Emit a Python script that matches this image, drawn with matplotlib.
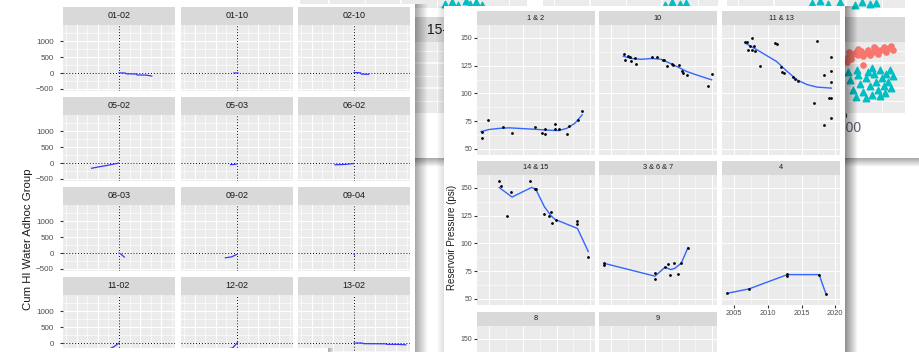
import numpy as np
import matplotlib.pyplot as plt
from matplotlib.ticker import FixedLocator

plt.rcParams['font.family'] = ['Liberation Sans', 'DejaVu Sans']

# ---------------- left sheet: cumulative HI water by ad hoc group ----------------
groups_left = ["01-02", "01-10", "02-10", "05-02", "05-03", "06-02",
               "08-03", "09-02", "09-04", "11-02", "12-02", "13-02"]
months_left = [
    [0, 6, 7, 16, 17, 26, 31],
    [-3, 0, 1],
    [0, 6, 7, 14],
    [-26, -19, -12, -6, 0],
    [-6, -3, 0],
    [-18, -9, 0],
    [0, 2, 5],
    [-11, -5, 0],
    [0, 0.5],
    [-11, -5, 0],
    [-11, -4, 0, 0.5],
    [0, 8, 9, 30, 31, 42, 49],
]
water_left = [
    [5, 0, -25, -30, -60, -65, -95],
    [0, 5, 0],
    [15, 10, -35, -40],
    [-165, -120, -80, -40, 0],
    [-50, -45, -30],
    [-55, -45, -15],
    [0, -40, -125],
    [-150, -120, -40],
    [-25, -60],
    [-215, -120, 0],
    [-210, -150, 0, 10],
    [0, 0, -20, -25, -40, -45, -55],
]

# ---------------- front sheet: reservoir pressure by well group ----------------
groups_right = ["1 & 2", "10", "11 & 13", "14 & 15", "3 & 6 & 7", "4", "8", "9"]
obs_year = [
    [2003.9, 2003.9, 2004.9, 2007.1, 2008.4, 2011.8, 2012.8, 2013.3, 2013.3,
     2014.7, 2014.7, 2015.3, 2016.6, 2016.8, 2018.2, 2018.8],
    [2006.95, 2007.1, 2007.55, 2007.8, 2007.95, 2008.5, 2008.7, 2011.0, 2011.8,
     2012.7, 2012.85, 2013.3, 2014.0, 2014.2, 2015.0, 2015.5, 2015.6, 2016.3,
     2019.4, 2019.9],
    [2006.6, 2006.95, 2007.6, 2007.1, 2007.6, 2008.1, 2007.4, 2007.9, 2008.9,
     2011.1, 2011.3, 2012.0, 2012.1, 2012.4, 2013.8, 2014.1, 2014.4, 2017.3,
     2016.9, 2018.3, 2018.4, 2019.4, 2019.4, 2019.3, 2019.1, 2019.4, 2019.4],
    [2006.5, 2006.7, 2007.6, 2008.2, 2011.1, 2011.8, 2011.9, 2013.2, 2013.9,
     2014.2, 2014.3, 2014.9, 2018.1, 2018.1, 2019.7],
    [2004.0, 2004.0, 2011.5, 2011.5, 2013.0, 2013.5, 2013.8, 2014.3, 2014.9,
     2015.4, 2016.4],
    [2004.0, 2007.2, 2012.9, 2012.9, 2017.6, 2018.6],
    [],
    [],
]
obs_psi = [
    [65, 60, 76, 70, 64, 70, 64, 68, 63, 72, 68, 68, 63, 71, 76, 84],
    [135.5, 130.3, 134.2, 132.8, 128.8, 131.8, 126.7, 133.3, 132.5, 130.3,
     130.3, 124.3, 126.7, 125.2, 125.8, 119.8, 118.3, 116.8, 106.9, 117.7],
    [146.8, 146.8, 150, 139.3, 139.3, 138.7, 143.2, 143.2, 124.9, 145.7, 144.5,
     123.7, 119.2, 118.3, 114.7, 113, 111.4, 147.2, 91.2, 116.5, 71.4, 133.3,
     120.4, 110.2, 95.8, 95.7, 78],
    [155.9, 151.4, 124.3, 146.6, 156.5, 149.5, 149, 126.1, 124.9, 127.9, 118.6,
     121.3, 120.4, 117.5, 87.6],
    [82.8, 81, 73.7, 67.8, 78.6, 81.6, 71.7, 82.2, 72.3, 82.2, 96.3],
    [55.1, 59.0, 72.8, 71.0, 71.9, 54.8],
    [],
    [],
]
fit_year = [
    [2003.8, 2005, 2006.5, 2008, 2010, 2012, 2014, 2015.3, 2016.5, 2017.7, 2018.8],
    [2006.8, 2008, 2009.5, 2011, 2012.4, 2013.7, 2015, 2016.2, 2018, 2019.9],
    [2006.8, 2008.4, 2010, 2011.3, 2012.6, 2014.3, 2015.8, 2017.3, 2019.4],
    [2006.5, 2008.4, 2011.3, 2011.9, 2013.2, 2014.2, 2014.8, 2018.1, 2019.7],
    [2004.0, 2011.5, 2013.0, 2013.8, 2014.4, 2015.4, 2016.4],
    [2004.0, 2007.2, 2012.9, 2017.6, 2018.6],
    [],
    [],
]
fit_psi = [
    [65.6, 67.5, 68.5, 69, 68.3, 67.6, 66.8, 66.5, 68.5, 73, 80.7],
    [133.5, 131.5, 130.8, 131.5, 130.8, 127.3, 123.5, 119.8, 116, 112.3],
    [144.8, 139.3, 133.5, 128.8, 121.3, 112.3, 108, 105.7, 104.8],
    [150.4, 141.8, 150.5, 149, 133, 124.8, 121.6, 113.5, 92.7],
    [82, 70.5, 78.6, 76.5, 77.4, 82.2, 96.3],
    [55.1, 59.0, 71.9, 71.9, 54.8],
    [],
    [],
]

# ---------------- sheet in the back (only slivers visible) ----------------
back_labels = ["15-02", "15-03", "15-04"]
tri_top_x = [[2306, 2354, 2396, 2451, 2479, 2521, 2563],
             [2021, 2069, 2125, 2167],
             [1764, 1819, 1875, 1958, 2063, 2111, 2167, 2208]]
tri_top_y = [[4, 6, 3, 7, 4, 6, 3],
             [3, 6, 4, 5],
             [5, 7, 4, 6, 3, 6, 4, 5]]
red_x = [2007, 2014, 2021, 2035, 2049, 2069, 2083, 2104, 2118, 2139, 2153, 2167,
         2188, 2208, 2222, 2243, 2264, 2278, 2299, 2313, 2326, 2118, 2194, 2083]
red_y = [51, 56, 61, 54, 59, 61, 58, 62, 57, 60, 63, 58, 61, 64, 59, 63, 66, 61,
         65, 67, 63, 48, 66, 64]
cyan_x = [2014, 2028, 2049, 2069, 2083, 2097, 2076, 2118, 2139, 2153, 2167, 2181,
          2194, 2208, 2222, 2236, 2250, 2264, 2278, 2292, 2306, 2313, 2326, 2181,
          2139, 2236, 2271]
cyan_y = [41, 33, 23, 16, 38, 29, 43, 21, 35, 41, 27, 18, 39, 31, 23, 43, 35, 27,
          39, 31, 43, 25, 37, 45, 15, 17, 20]

W, H = 919, 352
fig = plt.figure(figsize=(W / 100, H / 100), dpi=100)


def add_ax(x, y, w, h, z):
    ax = fig.add_axes([x / W, 1 - (y + h) / H, w / W, h / H])
    ax.set_zorder(z)
    return ax


def bare(ax, color):
    ax.set_facecolor(color)
    ax.set_xticks([])
    ax.set_yticks([])
    for s in ax.spines.values():
        s.set_visible(False)


def sheet(x, y, w, h, z):
    bare(add_ax(x, y, w, h, z), 'white')


def shadow(x, y, w, h, z, along='x', strength=0.3, flip=False):
    ax = add_ax(x, y, w, h, z)
    ax.axis('off')
    fade = np.linspace(strength, 0, 48)
    if flip:
        fade = fade[::-1]
    img = np.zeros((1, 48, 4)) if along == 'x' else np.zeros((48, 1, 4))
    img[..., 3] = fade.reshape(img.shape[:2])
    ax.imshow(img, aspect='auto', extent=(0, 1, 0, 1), interpolation='bilinear')
    ax.set_xlim(0, 1)
    ax.set_ylim(0, 1)


def strip(x, y, w, h, z, label, size, tx=0.5, ha='center'):
    ax = add_ax(x, y, w, h, z)
    bare(ax, '#D9D9D9')
    ax.text(tx, 0.5, label, ha=ha, va='center', fontsize=size, color='#1A1A1A',
            transform=ax.transAxes)


def gg_panel(ax, xlim, ylim, xmaj, xmin, ymaj, ymin, lw):
    ax.set_facecolor('#EBEBEB')
    ax.set_xlim(xlim)
    ax.set_ylim(ylim)
    ax.xaxis.set_major_locator(FixedLocator(xmaj))
    ax.xaxis.set_minor_locator(FixedLocator(xmin))
    ax.yaxis.set_major_locator(FixedLocator(ymaj))
    ax.yaxis.set_minor_locator(FixedLocator(ymin))
    ax.grid(which='major', color='white', lw=lw)
    ax.grid(which='minor', color='white', lw=lw * 0.55)
    ax.set_axisbelow(True)
    for s in ax.spines.values():
        s.set_visible(False)
    ax.tick_params(which='minor', length=0)
    ax.tick_params(which='major', length=0, labelbottom=False, labelleft=False,
                   color='#333333', labelcolor='#4D4D4D')


# ---- back sheet ----
back_cols = [(300, 227), (543, 175), (727, 178)]
back_anchor = [401, 662, 846]
px = 500 / 72
for i, (x0, w) in enumerate(back_cols):
    lo = 2000 - (back_anchor[i] - x0) * px
    hi = lo + w * px
    xmaj = [1000, 1500, 2000, 2500, 3000]
    xmin = [1250, 1750, 2250, 2750]
    top = add_ax(x0, -40, w, 48, 1.1)
    gg_panel(top, (lo, hi), (0, 48), xmaj, xmin, [12.5, 37.5], [25], 1.1)
    top.scatter(tri_top_x[i], tri_top_y[i], marker='^', s=22, color='#00BFC4',
                clip_on=False, zorder=3)
    if i == 0:
        strip(x0, 17, w, 25, 1.1, back_labels[i], 10, tx=(427 - x0) / w, ha='left')
    else:
        strip(x0, 17, w, 25, 1.1, back_labels[i], 10)
    mid = add_ax(x0, 42, w, 71, 1.1)
    gg_panel(mid, (lo, hi), (0, 71), xmaj, xmin, [25, 50], [12.5, 37.5, 62.5], 1.1)
    if i == 2:
        mid.scatter(red_x, red_y, s=14, color='#F8766D', zorder=3)
        mid.scatter(cyan_x, cyan_y, marker='^', s=22, color='#00BFC4', zorder=3)
        mid.tick_params(axis='x', which='major', labelbottom=True, length=3,
                        labelsize=10, labelcolor='#5B6474', pad=3)
shadow(330, 158, 589, 9, 2, along='y', strength=0.35)

# ---- left sheet ----
sheet(0, 4, 415, 360, 3)
shadow(415, 4, 13, 360, 3, strength=0.35)
left_cols = [63, 181, 298]
left_rows = [7, 97, 187, 277]
for i, name in enumerate(groups_left):
    r, c = divmod(i, 3)
    x0, y0 = left_cols[c], left_rows[r]
    strip(x0, y0, 112, 18, 3.2, name, 6.5)
    ax = add_ax(x0, y0 + 18, 112, 66, 3.1)
    # the last row is cut by the picture edge, so its -500 label is not shown
    ymaj = [-500, 0, 500, 1000] if r < 3 else [0, 500, 1000]
    gg_panel(ax, (-53, 53), (-565, 1510), [-40, -20, 0, 20, 40],
             [-50, -30, -10, 10, 30, 50], ymaj,
             [-250, 250, 750, 1250], 0.8)
    if r == 3:
        ax.axhline(-500, color='white', lw=0.8, zorder=0.5)
    ax.axvline(0, color='black', ls=(0, (1, 2)), lw=0.7)
    ax.axhline(0, color='black', ls=(0, (1, 2)), lw=0.7)
    ax.plot(months_left[i], water_left[i], color='#3535FF', lw=0.9)
    if c == 0:
        ax.tick_params(axis='y', which='major', labelleft=True, length=2.5,
                       labelsize=5.8, pad=4)
fig.text(28 / W, 1 - 239 / H, "Cum HI Water Adhoc Group", rotation=90,
         ha='center', va='center', fontsize=8.2, color='#1A1A1A', zorder=3.3)

# ---- front sheet ----
sheet(444, 6, 401, 360, 4)
shadow(845, 6, 13, 360, 4, strength=0.45)
shadow(436, 6, 8, 360, 4, strength=0.12, flip=True)
right_cols = [477, 599, 722]
right_rows = [11, 161, 312]
for i, name in enumerate(groups_right):
    r, c = divmod(i, 3)
    x0, y0 = right_cols[c], right_rows[r]
    strip(x0, y0, 118, 14, 4.2, name, 5.3)
    ax = add_ax(x0, y0 + 14, 118, 130, 4.1)
    # bottom row runs off the picture: only its 150 break is in view
    if r < 2:
        ymaj, ymin = [50, 75, 100, 125, 150], [62.5, 87.5, 112.5, 137.5]
    else:
        ymaj, ymin = [150], [50, 62.5, 75, 87.5, 100, 112.5, 125, 137.5]
    gg_panel(ax, (2003.2, 2020.7), (44.5, 161.7), [2005, 2010, 2015, 2020],
             [2007.5, 2012.5, 2017.5], ymaj, ymin, 0.7)
    ax.scatter(obs_year[i], obs_psi[i], s=4, color='black', zorder=3, lw=0)
    ax.plot(fit_year[i], fit_psi[i], color='#3366FF', lw=1)
    if c == 0:
        ax.tick_params(axis='y', which='major', labelleft=True, length=2,
                       labelsize=5, pad=1.5)
    if name == "4":
        ax.tick_params(axis='x', which='major', labelbottom=True, length=2,
                       labelsize=5.3, pad=1.5)
fig.text(452 / W, 1 - 237 / H, "Reservoir Pressure (psi)", rotation=90,
         ha='center', va='center', fontsize=7, color='#1A1A1A', zorder=4.3)

# a further sheet's top edge at the very bottom
sheet(0, 348, 328, 10, 5)
shadow(328, 348, 6, 10, 5, strength=0.3)

fig.savefig("out.png", dpi=100, facecolor='white')
